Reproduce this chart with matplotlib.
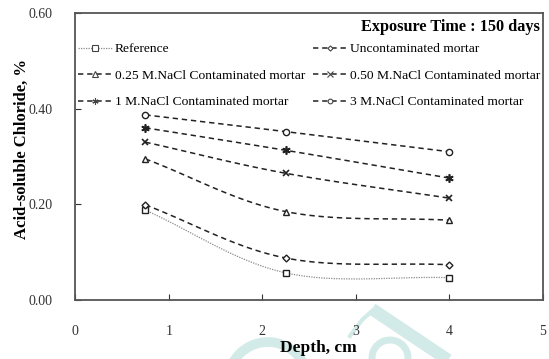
import numpy as np
import matplotlib
matplotlib.use("Agg")
import matplotlib.pyplot as plt
from matplotlib.lines import Line2D
from matplotlib.patches import Arc

plt.rcParams['font.family'] = ['Liberation Serif', 'DejaVu Serif']

depth = [0.75, 2.25, 4.0]
reference = [0.188, 0.057, 0.047]
uncontaminated = [0.199, 0.088, 0.074]
nacl_025 = [0.295, 0.185, 0.167]
nacl_050 = [0.330, 0.265, 0.213]
nacl_1 = [0.360, 0.313, 0.255]
nacl_3 = [0.387, 0.352, 0.310]

labels = ["Reference", "Uncontaminated mortar",
          "0.25 M.NaCl Contaminated mortar", "0.50 M.NaCl Contaminated mortar",
          "1 M.NaCl Contaminated mortar", "3 M.NaCl Contaminated mortar"]


def smooth(x, y, n=40):
    """Catmull-Rom style smoothing through the given points."""
    x = np.asarray(x, float)
    y = np.asarray(y, float)
    px = np.concatenate([[2 * x[0] - x[1]], x, [2 * x[-1] - x[-2]]])
    py = np.concatenate([[2 * y[0] - y[1]], y, [2 * y[-1] - y[-2]]])
    xs, ys = [], []
    for i in range(1, len(px) - 2):
        p0, p1, p2, p3 = (np.array([px[j], py[j]]) for j in (i - 1, i, i + 1, i + 2))
        c1 = p1 + (p2 - p0) / 6.0
        c2 = p2 - (p3 - p1) / 6.0
        t = np.linspace(0, 1, n)[:, None]
        pts = ((1 - t) ** 3) * p1 + 3 * ((1 - t) ** 2) * t * c1 + 3 * (1 - t) * t ** 2 * c2 + t ** 3 * p2
        xs.append(pts[:, 0])
        ys.append(pts[:, 1])
    return np.concatenate(xs), np.concatenate(ys)


W, H = 549, 359
fig = plt.figure(figsize=(W / 100, H / 100), dpi=100)
ax = fig.add_axes([0.137, 0.164, 0.852, 0.800])


# faint publisher watermark below the axis
def px(x, y):
    return x / W, 1 - y / H


wm = '#d3ebe8'
fig.add_artist(Line2D(*zip(px(372, 309), px(454, 364)), transform=fig.transFigure,
                      color=wm, lw=9, solid_capstyle='butt', zorder=-2))
fig.add_artist(Line2D(*zip(px(350, 336), px(362, 320), px(372, 311)), transform=fig.transFigure,
                      color=wm, lw=3, zorder=-2))
cx, cy = px(268, 382)
fig.add_artist(Arc((cx, cy), 80 / W, 80 / H, theta1=35, theta2=165, transform=fig.transFigure,
                   color=wm, lw=7, zorder=-2))
cx, cy = px(390, 358)
fig.add_artist(Arc((cx, cy), 36 / W, 36 / H, theta1=0, theta2=360, transform=fig.transFigure,
                   color=wm, lw=5, zorder=-2))

dash = (0, (3.5, 2.5))
series = [
    (reference, dict(ls=(0, (1, 1)), color='#8a8a8a', lw=0.9), dict(marker='s', ms=5, mew=1.0)),
    (uncontaminated, dict(ls=dash, color='#222222', lw=1.1), dict(marker='D', ms=3.5, mew=1.0)),
    (nacl_025, dict(ls=dash, color='#222222', lw=1.1), dict(marker='^', ms=5, mew=1.0)),
    (nacl_050, dict(ls=dash, color='#222222', lw=1.1), dict(marker='x', ms=5, mew=1.2)),
    (nacl_1, dict(ls=dash, color='#222222', lw=1.1), dict(marker=(6, 2, 0), ms=6, mew=1.2)),
    (nacl_3, dict(ls=dash, color='#222222', lw=1.1), dict(marker='o', ms=4.5, mew=1.0)),
]

handles = []
for (vals, lstyle, mstyle), lab in zip(series, labels):
    sx, sy = smooth(depth, vals)
    ax.plot(sx, sy, **lstyle)
    ax.plot(depth, vals, ls='none', mfc='white', mec='#222222', **mstyle)
    hm = dict(mstyle)
    hm['ms'] = mstyle['ms'] * 0.75
    hm['mew'] = 0.8
    h = Line2D([], [], color=lstyle['color'], ls=lstyle['ls'], lw=lstyle['lw'],
               mfc='white', mec='#444444', **hm)
    handles.append(h)

ax.set_xlim(0, 5)
ax.set_ylim(0, 0.6)
ax.set_xticks([0, 1, 2, 3, 4, 5])
ax.set_yticks([0.0, 0.2, 0.4, 0.6])
ax.set_yticklabels(['0.00', '0.20', '0.40', '0.60'])
ax.tick_params(axis='both', direction='in', length=4, width=0.8, labelsize=10, colors='#333333')
ax.tick_params(axis='x', pad=18)
ax.tick_params(axis='y', pad=16)
for s in ax.spines.values():
    s.set_color('#555555')
    s.set_linewidth(1.3)

ax.set_xlabel('Depth, cm', fontsize=12.5, fontweight='bold', va='center')
ax.xaxis.set_label_coords(0.52, -0.165)
ax.set_ylabel('Acid-soluble Chloride, %', fontsize=12, fontweight='bold', va='center')
ax.yaxis.set_label_coords(-0.115, 0.525)

ax.text(0.993, 0.95, 'Exposure Time : 150 days', transform=ax.transAxes,
        ha='right', va='center', fontsize=11.7, fontweight='bold')

order = [0, 2, 4, 1, 3, 5]
ax.legend([handles[i] for i in order], [labels[i] for i in order], ncol=2,
          loc='upper left', bbox_to_anchor=(0.0, 0.905), frameon=False,
          fontsize=9.7, handlelength=2.5, handletextpad=0.25, labelspacing=1.05,
          columnspacing=0.6, borderaxespad=0.0, borderpad=0.2)

fig.savefig('out.png', dpi=100)
